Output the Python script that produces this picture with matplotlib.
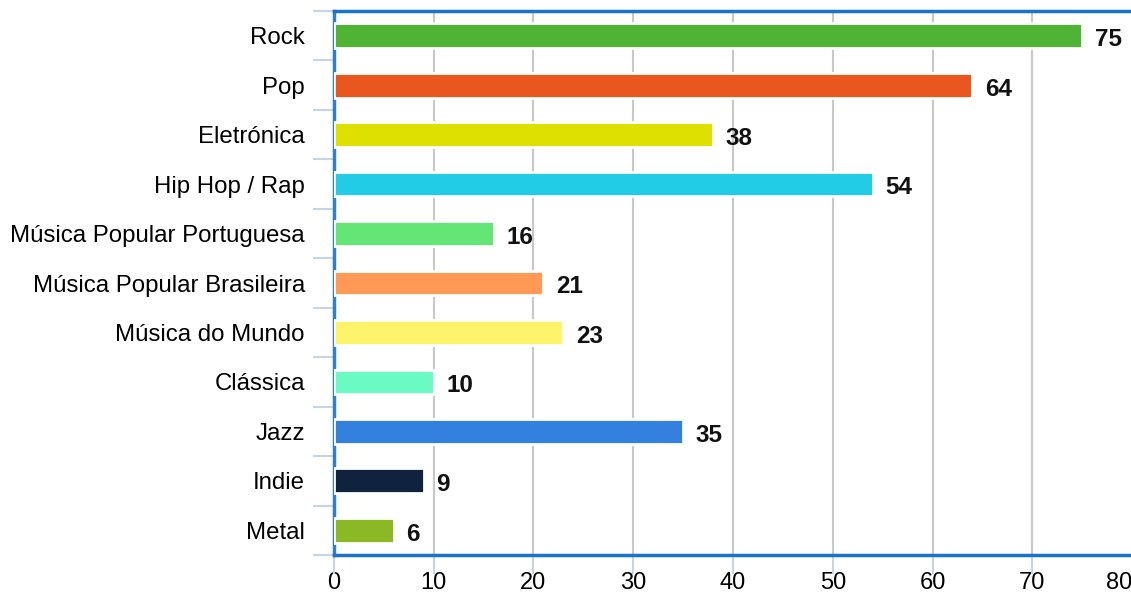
import matplotlib
matplotlib.use("Agg")
import matplotlib.pyplot as plt

plt.rcParams['font.family'] = ['Liberation Sans', 'DejaVu Sans']

genres = ["Rock", "Pop", "Eletrónica", "Hip Hop / Rap", "Música Popular Portuguesa",
          "Música Popular Brasileira", "Música do Mundo", "Clássica", "Jazz", "Indie", "Metal"]
counts = [75, 64, 38, 54, 16, 21, 23, 10, 35, 9, 6]
colors = ["#4fb335", "#e9561e", "#dde000", "#22cce6", "#63e676", "#ff9955",
          "#fef36a", "#6afac3", "#3380dd", "#0f233f", "#8ab925"]
x_ticks = [0, 10, 20, 30, 40, 50, 60, 70, 80]

fig = plt.figure(figsize=(11.31, 5.95), dpi=100)
ax = fig.add_axes([0.2953, 0.0672, 0.7056, 0.9143])

ypos = list(range(len(genres)))
ax.barh(ypos, counts, height=0.5, color=colors, edgecolor="white",
        linewidth=2, zorder=3)

for y, v in zip(ypos, counts):
    ax.annotate(str(v), (v, y), xytext=(9, -1), textcoords="offset points",
                va="center_baseline", ha="left", fontsize=17.5,
                fontweight="bold", color="#111111")

ax.set_ylim(len(genres) - 0.5, -0.5)
ax.set_xlim(0, 80)
ax.set_xticks(x_ticks)
ax.set_xticklabels([str(t) for t in x_ticks], fontsize=17)
ax.get_xticklabels()[-1].set_horizontalalignment("right")
ax.set_yticks(ypos)
ax.set_yticklabels(genres, fontsize=17.3)
ax.tick_params(axis="y", length=0, pad=21)
ax.tick_params(axis="x", length=0, pad=12)

# category separators on the left and ticks below the axis
for b in [i - 0.5 for i in range(len(genres) + 1)]:
    ax.plot([-0.025, 0], [b, b], transform=ax.get_yaxis_transform(),
            color="#c5d5e8", lw=1.5, clip_on=False, zorder=1)
for t in x_ticks:
    ax.plot([t, t], [-0.033, 0], transform=ax.get_xaxis_transform(),
            color="#c5d5e8", lw=1.5, clip_on=False, zorder=1)

ax.grid(axis="x", color="#c8c8c8", lw=1.5, zorder=0)
ax.set_axisbelow(True)

for side in ["top", "bottom"]:
    ax.spines[side].set_color("#1a73c9")
    ax.spines[side].set_linewidth(2.5)
ax.spines["left"].set_color("#2f7fd0")
ax.spines["left"].set_linewidth(2.5)
ax.spines["right"].set_visible(False)

fig.savefig("out.png", dpi=100)
